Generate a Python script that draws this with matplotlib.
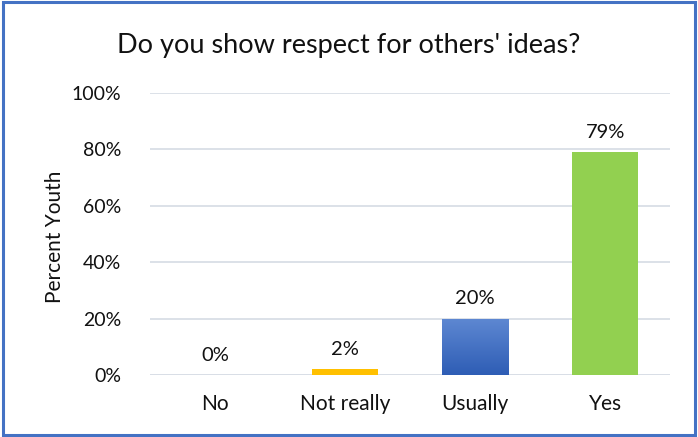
import matplotlib.pyplot as plt
import matplotlib.colors as mcolors
import numpy as np
from matplotlib.patches import Rectangle

plt.rcParams['font.family'] = ['Lato', 'DejaVu Sans']

categories = ["No", "Not really", "Usually", "Yes"]
percent_youth = [0, 2, 20, 79]
bar_colors = ["#4472C4", "#FFC000", "#4472C4", "#92D050"]
y_ticks = [0, 20, 40, 60, 80, 100]

fig = plt.figure(figsize=(6.98, 4.37), dpi=100)
ax = fig.add_axes([0.215, 0.142, 0.745, 0.645])

x = np.arange(len(categories))
bars = ax.bar(x, percent_youth, width=0.51, color=bar_colors, zorder=2)

# blue bar gets a soft vertical gradient
grad = mcolors.LinearSegmentedColormap.from_list("blue_grad", ["#2E5DB5", "#5E88D2"])
for b, c in zip(bars, bar_colors):
    if c == "#4472C4" and b.get_height() > 0:
        x0, w, h = b.get_x(), b.get_width(), b.get_height()
        img = ax.imshow(np.linspace(0, 1, 256).reshape(-1, 1), cmap=grad, origin="lower",
                        extent=[x0, x0 + w, 0, h], aspect="auto", zorder=3)
        img.set_clip_path(b)

for xi, v in zip(x, percent_youth):
    ax.text(xi, v + 4, f"{v:.0f}%", ha="center", va="bottom", fontsize=14.5, color="#111111")

ax.set_xlim(-0.5, len(categories) - 0.5)
ax.set_ylim(0, 100)
ax.set_yticks(y_ticks)
ax.set_yticklabels([f"{t}%" for t in y_ticks])
ax.set_xticks(x)
ax.set_xticklabels(categories)
ax.tick_params(axis="both", length=0, labelcolor="#111111")
ax.tick_params(axis="x", pad=14, labelsize=15)
ax.tick_params(axis="y", pad=21, labelsize=14)
ax.grid(axis="y", color="#D9DEE6", linewidth=1.3, zorder=0)
for s in ax.spines.values():
    s.set_visible(False)
ax.axhline(0, color="#D9DEE6", linewidth=1.3, zorder=1)

ax.set_ylabel("Percent Youth", fontsize=15, color="#111111", va="center")
ax.yaxis.set_label_coords(-0.183, 0.49)
fig.text(0.5, 0.895, "Do you show respect for others' ideas?", ha="center", va="center",
         fontsize=19.5, color="#111111")

# chart border
fig.patches.append(Rectangle((0.004, 0.005), 0.992, 0.99, transform=fig.transFigure,
                             fill=False, edgecolor="#4472C4", linewidth=2.2))

fig.savefig("out.png", dpi=100)
